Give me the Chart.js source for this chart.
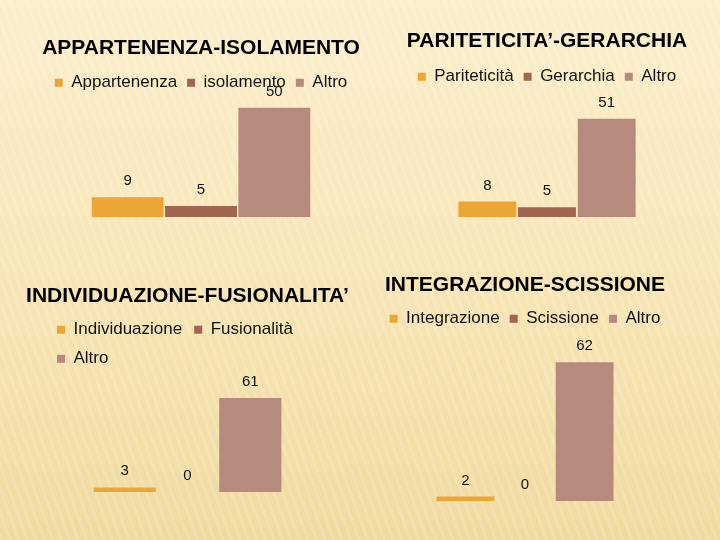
<!DOCTYPE html>
<html>
<head>
<meta charset="utf-8">
<script src="https://cdn.jsdelivr.net/npm/chart.js@4/dist/chart.umd.min.js"></script>
<style>
  html, body { margin: 0; padding: 0; }
  body {
    width: 720px; height: 540px; overflow: hidden; position: relative;
    background:
      repeating-linear-gradient(70deg, rgba(255,255,255,0.16) 0 3px, rgba(255,255,255,0) 3px 8px),
      linear-gradient(180deg, #fbeecb 0%, #f8e7b9 45%, #f0da9f 100%);
  }
  canvas { position: absolute; }
</style>
</head>
<body>
<canvas id="c1" width="318" height="189" style="left:42px;top:28px"></canvas>
<canvas id="c2" width="334" height="196" style="left:380px;top:21px"></canvas>
<canvas id="c3" width="375" height="216" style="left:0px;top:276px"></canvas>
<canvas id="c4" width="330" height="236" style="left:360px;top:265px"></canvas>
<script>
// data
const titles = ['APPARTENENZA-ISOLAMENTO', 'PARITETICITA’-GERARCHIA', 'INDIVIDUAZIONE-FUSIONALITA’', 'INTEGRAZIONE-SCISSIONE'];
const namesAppartenenza = ['Appartenenza', 'isolamento', 'Altro'];
const valuesAppartenenza = [9, 5, 50];
const namesPariteticita = ['Pariteticità', 'Gerarchia', 'Altro'];
const valuesPariteticita = [8, 5, 51];
const namesIndividuazione = ['Individuazione', 'Fusionalità', 'Altro'];
const valuesIndividuazione = [3, 0, 61];
const namesIntegrazione = ['Integrazione', 'Scissione', 'Altro'];
const valuesIntegrazione = [2, 0, 62];

const colors = ['#eda536', '#a2654f', '#b68a7c'];
const FONT = '"Liberation Sans", Arial, sans-serif';

// draws the value above every bar
const valueLabels = {
  id: 'valueLabels',
  afterDatasetsDraw(chart) {
    const ctx = chart.ctx;
    ctx.save();
    ctx.font = '15px ' + FONT;
    ctx.fillStyle = '#111';
    ctx.textAlign = 'center';
    ctx.textBaseline = 'alphabetic';
    chart.data.datasets.forEach((ds, i) => {
      chart.getDatasetMeta(i).data.forEach((bar, j) => {
        ctx.fillText(ds.data[j], bar.x, bar.y - 12);
      });
    });
    ctx.restore();
  }
};

const hiddenAxis = (pos) => ({
  type: 'linear',
  position: pos,
  display: true,
  ticks: { display: false },
  grid: { display: false },
  border: { display: false },
  afterFit: (s) => { s.width = 45; }
});

function makeChart(id, title, names, values, o) {
  const datasets = names.map((n, i) => ({
    label: n,
    data: [values[i]],
    backgroundColor: colors[i],
    borderWidth: 0,
    categoryPercentage: o.cat,
    barPercentage: o.bar
  }));
  const scales = {
    x: { display: false },
    y: { display: false, min: 0, max: o.max }
  };
  if (o.sideAxes) {
    scales.y = Object.assign(hiddenAxis('left'), { min: 0, max: o.max });
    scales.y2 = hiddenAxis('right');
  }
  return new Chart(document.getElementById(id), {
    type: 'bar',
    data: { labels: [''], datasets: datasets },
    options: {
      responsive: false,
      animation: false,
      devicePixelRatio: 1,
      layout: { padding: 0 },
      scales: scales,
      plugins: {
        tooltip: { enabled: false },
        title: {
          display: true,
          text: title,
          color: '#000',
          font: { family: FONT, size: 21, weight: 'bold' },
          padding: { top: 8, bottom: o.titleGap }
        },
        legend: {
          display: true,
          position: 'top',
          align: o.legendAlign || 'center',
          fullSize: !o.sideAxes,
          labels: {
            color: '#111',
            font: { family: FONT, size: 17 },
            boxWidth: 8,
            boxHeight: 8,
            padding: o.legendPad || 10
          }
        }
      }
    },
    plugins: [valueLabels]
  });
}

makeChart('c1', titles[0], namesAppartenenza, valuesAppartenenza, { max: 53, cat: 0.692, bar: 0.98, titleGap: 3 });
makeChart('c2', titles[1], namesPariteticita, valuesPariteticita, { max: 63.2, cat: 0.536, bar: 0.97, titleGap: 4 });
makeChart('c3', titles[2], namesIndividuazione, valuesIndividuazione, { max: 74.5, cat: 0.661, bar: 0.99, titleGap: 0, sideAxes: true, legendAlign: 'start', legendPad: 12 });
makeChart('c4', titles[3], namesIntegrazione, valuesIntegrazione, { max: 73.2, cat: 0.542, bar: 0.97, titleGap: 2 });
</script>
</body>
</html>
